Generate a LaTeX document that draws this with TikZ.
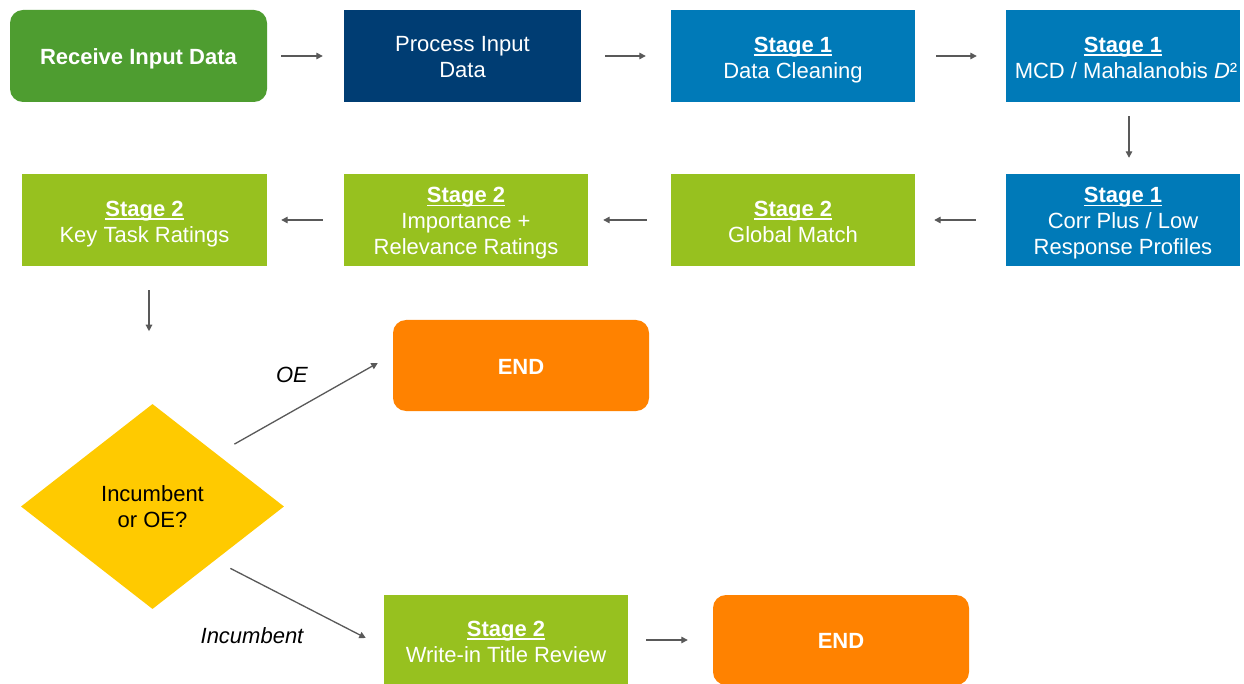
\documentclass[tikz,border=0pt]{standalone}
\usepackage{fontspec}
\setmainfont{Liberation Sans}
\usetikzlibrary{shapes.geometric,arrows.meta}
\definecolor{cGreenD}{HTML}{4E9D30}
\definecolor{cNavy}{HTML}{003D73}
\definecolor{cBlue}{HTML}{007AB8}
\definecolor{cGreenL}{HTML}{97C11F}
\definecolor{cOrange}{HTML}{FF8200}
\definecolor{cYellow}{HTML}{FFCA00}
\definecolor{cArrow}{HTML}{595959}
\newcommand{\stg}[1]{\setbox0\hbox{\textbf{#1}}\rlap{\rule[-3.6pt]{\wd0}{1.6pt}}\box0}
\newcommand{\lowered}[2]{\raisebox{#1}[\height][\depth]{\begin{tabular}{@{}c@{}}#2\end{tabular}}}
\begin{document}
\begin{tikzpicture}[x=1pt,y=-1pt,
  box/.style={rectangle,minimum height=92,inner sep=0pt,align=center,text=white,
    font=\fontsize{22}{26}\selectfont},
  rbox/.style={box,rounded corners=13pt},
  arr/.style={draw=cArrow,line width=1.3pt,-{Triangle[length=6.5pt,width=6.5pt]}},
  lab/.style={font=\fontsize{22}{26}\selectfont\itshape,text=black,inner sep=0pt}]
\useasboundingbox (0,0) rectangle (1244,684);
\fill[white] (0,0) rectangle (1244,684);
% row 1
\node[rbox,fill=cGreenD,minimum width=257] (rec) at (138.5,56) {\lowered{-3.5pt}{\textbf{Receive Input Data}}};
\node[box,fill=cNavy,minimum width=237] (proc) at (462.5,56) {\lowered{-3.5pt}{Process Input\\Data}};
\node[box,fill=cBlue,minimum width=244] (clean) at (793,56) {\lowered{-4pt}{\stg{Stage 1}\\Data Cleaning}};
\node[box,fill=cBlue,minimum width=234] (mcd) at (1123,56) {\lowered{-4pt}{\stg{Stage 1}\\\hspace*{6pt}MCD / Mahalanobis \textit{D}²}};
% row 2
\node[box,fill=cBlue,minimum width=234] (corr) at (1123,220) {\lowered{-3.5pt}{\stg{Stage 1}\\Corr Plus / Low\\Response Profiles}};
\node[box,fill=cGreenL,minimum width=244] (glob) at (793,220) {\lowered{-4pt}{\stg{Stage 2}\\Global Match}};
\node[box,fill=cGreenL,minimum width=244] (imp) at (466,220) {\lowered{-3.5pt}{\stg{Stage 2}\\Importance +\\Relevance Ratings}};
\node[box,fill=cGreenL,minimum width=245] (key) at (144.5,220) {\lowered{-4pt}{\stg{Stage 2}\\Key Task Ratings}};
% lower part
\node[rbox,fill=cOrange,minimum width=256,minimum height=91] (end1) at (521,365.5) {\lowered{-3.5pt}{\textbf{END}}};
\node[diamond,fill=cYellow,minimum width=263,minimum height=205,inner sep=0pt,
  shape aspect=1.28,align=center,font=\fontsize{22}{26}\selectfont] (dia) at (152.5,506.5) {Incumbent\\or OE?};
\node[box,fill=cGreenL,minimum width=244,minimum height=90] (write) at (506,640) {\lowered{-4pt}{\stg{Stage 2}\\Write-in Title Review}};
\node[rbox,fill=cOrange,minimum width=256,minimum height=90] (end2) at (841,640) {\lowered{-3.5pt}{\textbf{END}}};
% connectors
\draw[arr,shorten <=14pt,shorten >=21pt] (rec.east) -- (proc.west);
\draw[arr,shorten <=24pt,shorten >=25pt] (proc.east) -- (clean.west);
\draw[arr,shorten <=21pt,shorten >=29pt] (clean.east) -- (mcd.west);
\draw[arr,shorten <=14pt,shorten >=16pt] ([xshift=6pt]mcd.south) -- ([xshift=6pt]corr.north);
\draw[arr,shorten <=30pt,shorten >=19pt] (corr.west) -- (glob.east);
\draw[arr,shorten <=24pt,shorten >=15pt] (glob.west) -- (imp.east);
\draw[arr,shorten <=21pt,shorten >=14pt] (imp.west) -- (key.east);
\draw[arr] ([shift={(4.5,24)}]key.south) -- ([shift={(4.5,65)}]key.south);
\draw[arr] ([shift={(16,-11)}]dia.north east) -- ([shift={(-15,-2.5)}]end1.west);
\draw[arr] ([shift={(12,10.5)}]dia.south east) -- ([shift={(-18,-2)}]write.west);
\draw[arr,shorten <=18pt,shorten >=25pt] (write.east) -- (end2.west);
\node[lab] (oe) at (292,375) {OE};
\node[lab] (inc) at (252,636) {Incumbent};
\end{tikzpicture}
\end{document}
